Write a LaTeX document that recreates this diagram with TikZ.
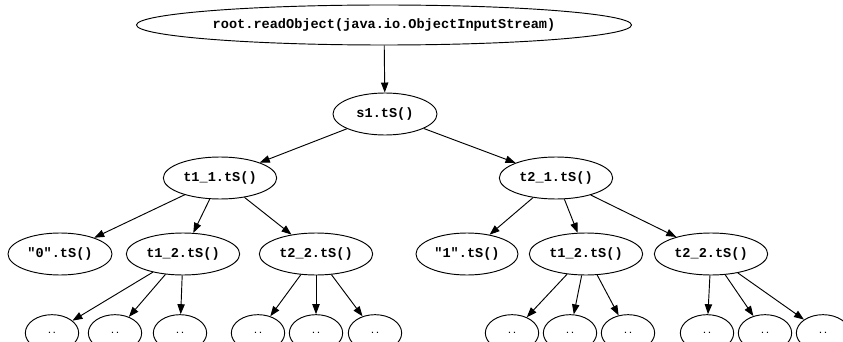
\documentclass[tikz,border=0pt]{standalone}
\usepackage{fontspec}
\setmonofont{Liberation Mono}
\usepackage{tikz}
\usetikzlibrary{shapes.geometric, arrows.meta}
\tikzstyle{callGraph} = [x = 0.03cm, y = -0.03cm]
\tikzstyle{callNode} = [draw, ellipse, thick, inner sep = 0pt, minimum height = 1.26cm,
  font = \ttfamily\bfseries\fontsize{11.6}{13}\selectfont]
\tikzstyle{leafNode} = [callNode, minimum width = 1.6cm, minimum height = 1.1cm,
  font = \ttfamily\bfseries\fontsize{7}{8}\selectfont]
\tikzstyle{callEdge} = [thick, -{Triangle[length = 0.3cm, width = 0.22cm]}]
\newcommand{\callWidth}{3.4cm}
\newcommand{\leafY}{333}
\newcommand{\leafTriple}[4]{
  \foreach \leafX [count = \k] in {#2, #3, #4} {
    \node [leafNode] (#1-\k) at (\leafX, \leafY) {..};
    \draw [callEdge] (#1) -- (#1-\k);
  }
}

\begin{document}
\begin{tikzpicture}[callGraph]
  \useasboundingbox (0, 0) rectangle (843, 342);
  \node [callNode, minimum width = 14.85cm, minimum height = 1.2cm] (root) at (384, 25)
    {root.readObject(java.io.ObjectInputStream)};
  \node [callNode, minimum width = 3.12cm] (s1) at (385, 114) {s1.tS()};
  \node [callNode, minimum width = \callWidth] (t11) at (220, 178) {t1\_1.tS()};
  \node [callNode, minimum width = \callWidth] (t21) at (556, 178) {t2\_1.tS()};

  \node [callNode, minimum width = 3.12cm] (zeroCall) at (60, 254) {"0".tS()};
  \node [callNode, minimum width = \callWidth] (t12a) at (183, 254) {t1\_2.tS()};
  \node [callNode, minimum width = \callWidth] (t22a) at (316, 254) {t2\_2.tS()};
  \node [callNode, minimum width = 3.06cm] (oneCall) at (467, 254) {"1".tS()};
  \node [callNode, minimum width = \callWidth] (t12b) at (586, 254) {t1\_2.tS()};
  \node [callNode, minimum width = \callWidth] (t22b) at (711, 254) {t2\_2.tS()};

  \draw [callEdge] (root) -- (s1);
  \draw [callEdge] (s1) -- (t11);
  \draw [callEdge] (s1) -- (t21);
  \foreach \child in {zeroCall, t12a, t22a}
    \draw [callEdge] (t11) -- (\child);
  \foreach \child in {oneCall, t12b, t22b}
    \draw [callEdge] (t21) -- (\child);

  \leafTriple{t12a}{52}{115}{180}
  \leafTriple{t22a}{258}{316}{375}
  \leafTriple{t12b}{512}{570}{628}
  \leafTriple{t22b}{707}{765}{823}
\end{tikzpicture}
\end{document}
